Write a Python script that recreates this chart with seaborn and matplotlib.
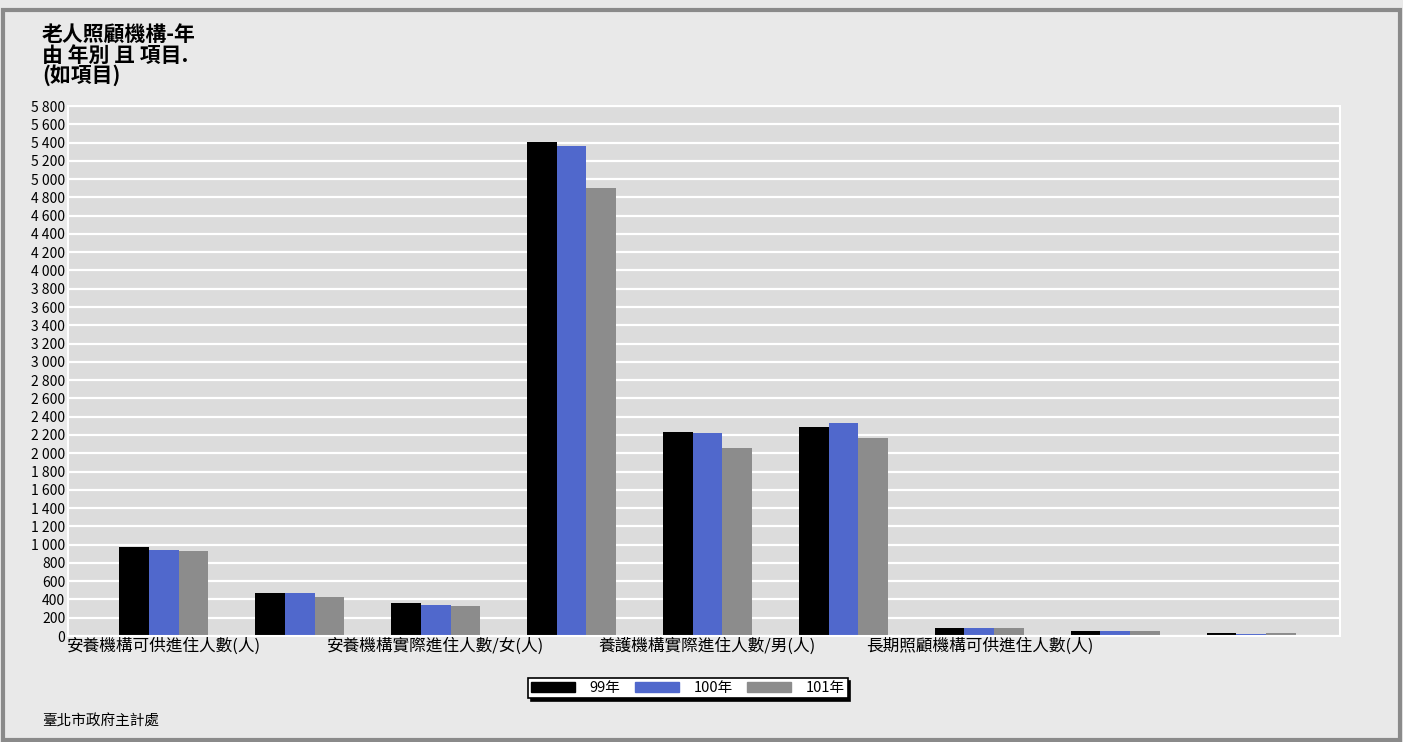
import matplotlib
matplotlib.use("Agg")
import matplotlib.pyplot as plt
import matplotlib.patches as mpatches
from matplotlib.ticker import FuncFormatter, MultipleLocator
import seaborn as sns
import pandas as pd

# 資料
items = [
    "安養機構可供進住人數(人)",
    "安養機構實際進住人數/男(人)",
    "安養機構實際進住人數/女(人)",
    "養護機構可供進住人數(人)",
    "養護機構實際進住人數/男(人)",
    "養護機構實際進住人數/女(人)",
    "長期照顧機構可供進住人數(人)",
    "長期照顧機構實際進住人數/男(人)",
    "長期照顧機構實際進住人數/女(人)",
]
years = ["99年", "100年", "101年"]
v99 = [971, 470, 358, 5409, 2236, 2283, 84, 51, 33]
v100 = [941, 470, 343, 5362, 2218, 2334, 84, 51, 22]
v101 = [927, 423, 325, 4906, 2057, 2170, 84, 51, 33]
colors = ["#000000", "#5068cc", "#8c8c8c"]

df = pd.DataFrame({
    "項目": items * 3,
    "年別": [y for y in years for _ in items],
    "人數": v99 + v100 + v101,
})

sns.set_theme(style="white")
plt.rcParams["font.family"] = ["Noto Sans CJK TC", "DejaVu Sans"]
plt.rcParams["axes.unicode_minus"] = False
plt.rcParams["text.color"] = "black"
plt.rcParams["xtick.color"] = "black"
plt.rcParams["ytick.color"] = "black"

fig = plt.figure(figsize=(14.03, 7.42), dpi=100, facecolor="#e9e9e9")
ax = fig.add_axes([68 / 1403, 1 - 636 / 742, (1340 - 68) / 1403, (636 - 106) / 742])
ax.set_facecolor("#dcdcdc")

sns.barplot(data=df, x="項目", y="人數", hue="年別", palette=colors,
            width=0.655, gap=0, saturation=1, ax=ax, edgecolor="none",
            linewidth=0, legend=False)

ax.set_ylim(0, 5800)
ax.set_xlim(-0.706, 8.654)
ax.yaxis.set_major_locator(MultipleLocator(200))
ax.yaxis.set_major_formatter(FuncFormatter(lambda v, p: f"{int(v):,}".replace(",", " ")))
ax.grid(axis="y", color="white", linewidth=1.6)
ax.set_axisbelow(True)
for s in ax.spines.values():
    s.set_color("white")
    s.set_linewidth(1.5)
ax.tick_params(axis="y", length=0, pad=2, labelsize=10)
ax.tick_params(axis="x", length=0, pad=1, labelsize=12)
ax.set_xlabel("")
ax.set_ylabel("")

# 只顯示隔一個的項目標籤
tick_pos = [0, 2, 4, 6]
ax.set_xticks(tick_pos)
ax.set_xticklabels([items[p] for p in tick_pos])

# 標題
fig.text(42 / 1403, 1 - 25 / 742, "老人照顧機構-年\n由 年別 且 項目.\n(如項目)",
         ha="left", va="top", fontsize=15, fontweight="bold", linespacing=0.92)

# 圖例
handles = [mpatches.Patch(color=c, label=y) for c, y in zip(colors, years)]
leg = fig.legend(handles=handles, loc="center", bbox_to_anchor=(688 / 1403, 1 - 688 / 742),
                 ncol=3, frameon=True, fancybox=False, shadow={"color": "black", "alpha": 1},
                 edgecolor="black", facecolor="white", fontsize=10.5,
                 handlelength=3.0, handleheight=0.7, columnspacing=1.0,
                 borderpad=0.2, handletextpad=1.0, borderaxespad=0)
leg.get_frame().set_linewidth(1.2)

# 資料來源
fig.text(42 / 1403, 1 - 721 / 742, "臺北市政府主計處", ha="left", va="center",
         fontsize=10.5, fontstyle="italic")

# 外框
fig.patches.append(mpatches.Rectangle((0.002, 0.003), 0.996, 0.984,
                                      transform=fig.transFigure, fill=False,
                                      edgecolor="#8a8a8a", linewidth=3))

fig.savefig("out.png", dpi=100, facecolor=fig.get_facecolor())
